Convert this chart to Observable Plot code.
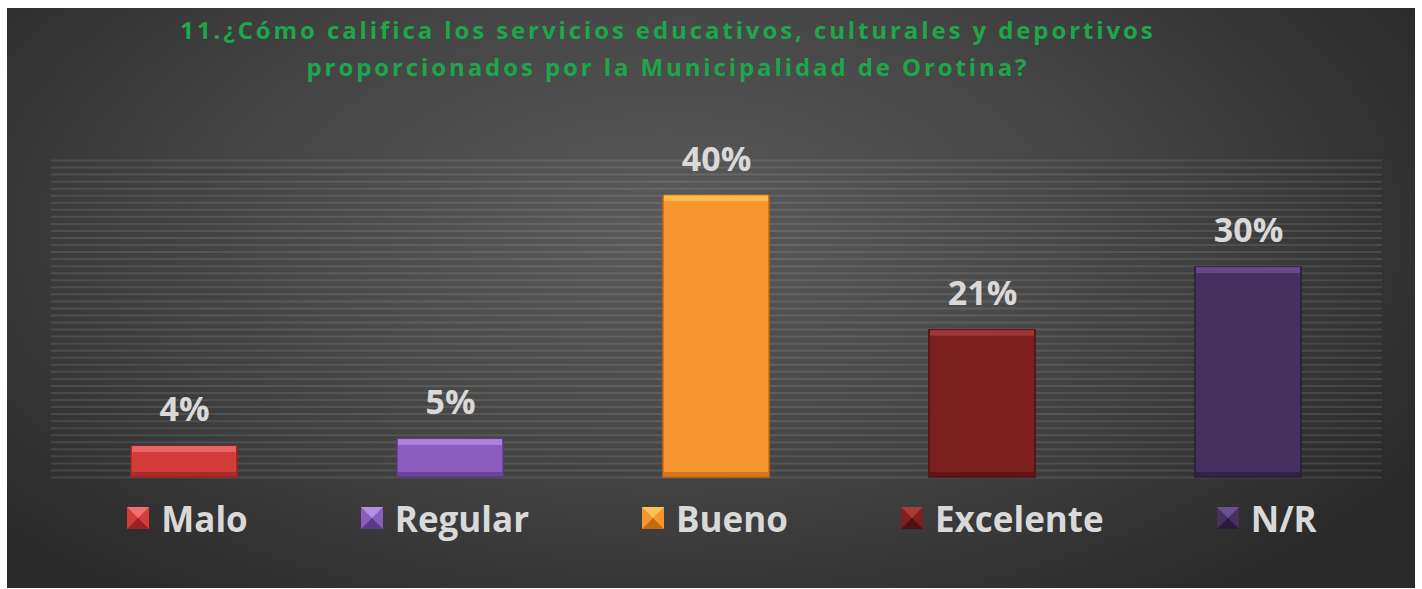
<!DOCTYPE html>
<html>
<head>
<meta charset="utf-8">
<script src="https://cdn.jsdelivr.net/npm/d3@7"></script>
<script src="https://cdn.jsdelivr.net/npm/@observablehq/plot@0.6"></script>
<style>
  html, body { margin: 0; padding: 0; background: #fff; }
  #frame {
    position: absolute; left: 7px; top: 8px; width: 1408px; height: 580px;
    background: radial-gradient(ellipse 62% 80% at 47% 38%, #5a5a5a 0%, #484848 45%, #2a2a2a 100%);
    overflow: hidden;
    font-family: "Open Sans", sans-serif;
  }
  #title {
    position: absolute; left: 0; top: 3px; width: 1322px; text-align: center;
    color: #1ea64b; font-weight: 700; font-size: 24px; letter-spacing: 2.9px; line-height: 37px;
  }
  #chart { position: absolute; left: 0; top: 112px; }
  #legend {
    position: absolute; left: 0; width: 1430px; top: 487px; height: 46px;
    display: flex; justify-content: center; align-items: center; gap: 113px;
  }
  .item { display: flex; align-items: center; gap: 12px; color: #d9d9d9; font-weight: 700; font-size: 35px; }
  .sw { width: 0; height: 0; border-style: solid; border-width: 11px; }
</style>
</head>
<body>
<div id="frame">
  <div id="title"></div>
  <div id="chart"></div>
  <div id="legend"></div>
</div>
<script>
const titleLines = ["11.¿Cómo califica los servicios educativos, culturales y deportivos",
                    "proporcionados por la Municipalidad de Orotina?"];
const categories = ["Malo", "Regular", "Bueno", "Excelente", "N/R"];
const values = [4.4, 5.4, 40.0, 20.9, 29.8];
const colors = ["#d43b3b", "#8a5cbf", "#f7952f", "#7c1f1f", "#45305f"];
const lightColors = ["#ef7070", "#b58de3", "#fec35c", "#a83c3c", "#6c5192"];
const darkColors = ["#9a2323", "#5c3a88", "#c46a10", "#521111", "#2b1c3e"];
const gridTicks = d3.range(0, 46, 1);

const data = categories.map((c, i) => ({
  cat: c, v: values[i], color: colors[i], light: lightColors[i], dark: darkColors[i]
}));

document.getElementById("title").innerHTML = titleLines.join("<br>");

const chart = Plot.plot({
  width: 1408,
  height: 370,
  marginLeft: 44,
  marginRight: 33,
  marginTop: 40,
  marginBottom: 13,
  style: { background: "transparent", fontFamily: "Open Sans, sans-serif", overflow: "visible" },
  x: { domain: categories, paddingInner: 0.6, paddingOuter: 0.3, axis: null },
  y: { domain: [0, 45], axis: null },
  marks: [
    Plot.ruleY(gridTicks, { stroke: "#ffffff", strokeOpacity: 0.1, strokeWidth: 2 }),
    Plot.barY(data, { x: "cat", y: "v", fill: "color", stroke: "dark", strokeWidth: 1.5 }),
    Plot.barY(data, { x: "cat", y1: "v", y2: "v", fill: "light", insetBottom: -6, insetLeft: 1, insetRight: 1, fillOpacity: 0.8 }),
    Plot.barY(data, { x: "cat", y1: 0, y2: 0, fill: "dark", insetTop: -5, insetLeft: 1, insetRight: 1, fillOpacity: 0.7 }),
    Plot.text(data, {
      x: "cat", y: "v", text: d => Math.round(d.v) + "%", dy: -36,
      fill: "#d9d9d9", fontSize: 34, fontWeight: "bold", fontFamily: "Open Sans, sans-serif"
    })
  ]
});
document.getElementById("chart").appendChild(chart);

const legend = document.getElementById("legend");
data.forEach(d => {
  const item = document.createElement("div");
  item.className = "item";
  const sw = document.createElement("div");
  sw.className = "sw";
  sw.style.borderColor = `${d.light} ${d.color} ${d.dark} ${d.color}`;
  item.appendChild(sw);
  const t = document.createElement("span");
  t.textContent = d.cat;
  item.appendChild(t);
  legend.appendChild(item);
});
</script>
</body>
</html>
